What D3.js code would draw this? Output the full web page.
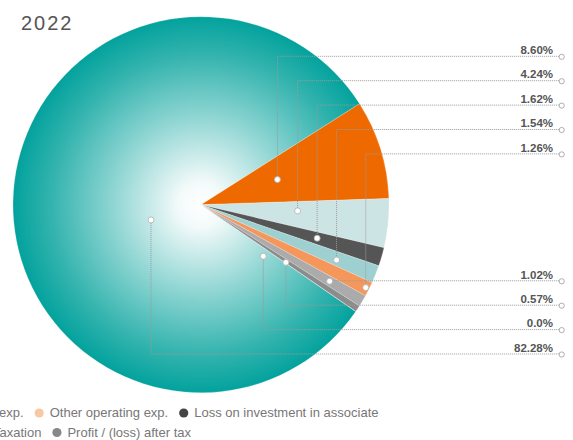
<!DOCTYPE html>
<html>
<head>
<meta charset="utf-8">
<script src="https://cdn.jsdelivr.net/npm/d3@7"></script>
<style>
  html, body { margin: 0; padding: 0; background: #fff; overflow: hidden; }
  svg { display: block; font-family: "Liberation Sans", Arial, sans-serif; }
</style>
</head>
<body>
<svg id="chart" width="573" height="440"></svg>
<script>
// Cost structure, 2022 (share of revenue, %), listed clockwise from the orange slice
const categories = [
  "Administrative exp.",
  "Selling & distribution exp.",
  "Loss on investment in associate",
  "Finance cost",
  "Other operating exp.",
  "Other exp.",
  "Taxation",
  "Profit / (loss) after tax",
  "Cost of sales"
];
const shares = [8.60, 4.24, 1.62, 1.54, 1.26, 1.02, 0.57, 0.0, 82.28];
const valueLabels = ["8.60%", "4.24%", "1.62%", "1.54%", "1.26%", "1.02%", "0.57%", "0.0%", "82.28%"];
const sliceColors = ["#ee6a00", "#cde4e4", "#555555", "#9fd0d1", "#f5975b", "#ababab", "#8c8c8c", "#888888", "url(#mainGrad)"];

// Legend rows (the legend is wider than the frame and starts off to the left)
const legendRow1 = ["Selling & distribution exp.", "Other operating exp.", "Loss on investment in associate"];
const legendRow1Colors = ["#b9dcdc", "#f8c8a2", "#444444"];
const legendRow2 = ["Taxation", "Profit / (loss) after tax"];
const legendRow2Colors = ["#8c8c8c", "#888888"];

const titleText = "2022";

// Layout
const cx = 201, cy = 204.7, R = 188;
const startDeg = 57.5;
// Radial position of each callout anchor (fraction of radius) and small angular nudge (deg)
const anchorRadius = [0.428, 0.515, 0.643, 0.779, 0.981, 0.796, 0.546, 0.43, 0.278];
const anchorNudge = [-1, -2, 0, 0.5, 0, 0, 0.6, 5, -18];
const topCount = 5;
const labelTop = 56.3, labelBottom = 354, labelStep = 24.4;
const labelRight = 553, endDotX = 561.7;

const svg = d3.select("#chart");
const defs = svg.append("defs");
// radial shading of the main slice, centred on the pie centre (group coordinates)
const grad = defs.append("radialGradient")
  .attr("id", "mainGrad")
  .attr("gradientUnits", "userSpaceOnUse")
  .attr("cx", 0).attr("cy", 0).attr("r", R);
[[0, "#ffffff"], [0.12, "#f3fafa"], [0.5, "#86d2cf"], [0.8, "#33b3ae"], [1, "#03a29d"]].forEach(([o, c]) =>
  grad.append("stop").attr("offset", o).attr("stop-color", c));

// Title
svg.append("text")
  .attr("x", 21).attr("y", 29.5)
  .attr("font-size", 20).attr("letter-spacing", 2)
  .attr("fill", "#555")
  .text(titleText);

// Pie
const toRad = d => d * Math.PI / 180;
const pie = d3.pie().sort(null).value(d => d)
  .startAngle(toRad(startDeg)).endAngle(toRad(startDeg) + 2 * Math.PI);
const arcs = pie(shares);
const arc = d3.arc().innerRadius(0).outerRadius(R);

const g = svg.append("g").attr("transform", `translate(${cx},${cy})`);
// draw the big slice first so small slices sit on top
const drawOrder = d3.range(arcs.length).sort((a, b) => shares[b] - shares[a]);
g.selectAll("path.slice")
  .data(drawOrder.map(i => ({ a: arcs[i], i })))
  .join("path")
  .attr("class", "slice")
  .attr("d", d => arc(d.a))
  .attr("fill", d => sliceColors[d.i])
  .attr("stroke", "#ffffff")
  .attr("stroke-opacity", 0.35)
  .attr("stroke-width", 0.6);

// Callouts
const anchors = arcs.map((a, i) => {
  const ang = (a.startAngle + a.endAngle) / 2 + toRad(anchorNudge[i]);
  const r = anchorRadius[i] * R;
  return { x: cx + r * Math.sin(ang), y: cy - r * Math.cos(ang) };
});
const nBottom = arcs.length - topCount;
const labelY = arcs.map((a, i) => i < topCount
  ? labelTop + i * labelStep
  : labelBottom - (nBottom - 1 - (i - topCount)) * labelStep);

const callouts = svg.append("g");
arcs.forEach((a, i) => {
  const p = anchors[i], ly = labelY[i];
  callouts.append("path")
    .attr("d", `M${endDotX - 2.5},${ly}H${p.x}V${p.y}`)
    .attr("fill", "none")
    .attr("stroke", "#9a9a9a")
    .attr("stroke-width", 1)
    .attr("stroke-dasharray", "1,1");
  callouts.append("circle")
    .attr("cx", p.x).attr("cy", p.y).attr("r", 3)
    .attr("fill", "#fff").attr("stroke", "#b0b0b0").attr("stroke-width", 0.8);
  callouts.append("circle")
    .attr("cx", endDotX).attr("cy", ly + 0.5).attr("r", 2.6)
    .attr("fill", "#fff").attr("stroke", "#9a9a9a").attr("stroke-width", 0.8);
  callouts.append("text")
    .attr("x", labelRight).attr("y", ly - 2.3)
    .attr("text-anchor", "end")
    .attr("font-size", 11.5).attr("font-weight", "bold")
    .attr("fill", "#555")
    .text(valueLabels[i]);
});

// Legend: each row laid out right-to-left from its end
function legendRow(names, colors, endX, baseY) {
  const row = svg.append("g");
  let x = endX;
  for (let k = names.length - 1; k >= 0; k--) {
    const t = row.append("text")
      .attr("y", baseY)
      .attr("font-size", 13)
      .attr("fill", "#777")
      .text(names[k]);
    const w = t.node().getComputedTextLength();
    t.attr("x", x - w);
    const mx = x - w - 10.5;
    row.append("circle")
      .attr("cx", mx).attr("cy", baseY - 4)
      .attr("r", 4.6)
      .attr("fill", colors[k]);
    x = mx - 15.5;
  }
}
legendRow(legendRow1, legendRow1Colors, 378.5, 417);
legendRow(legendRow2, legendRow2Colors, 191, 436.5);
</script>
</body>
</html>
